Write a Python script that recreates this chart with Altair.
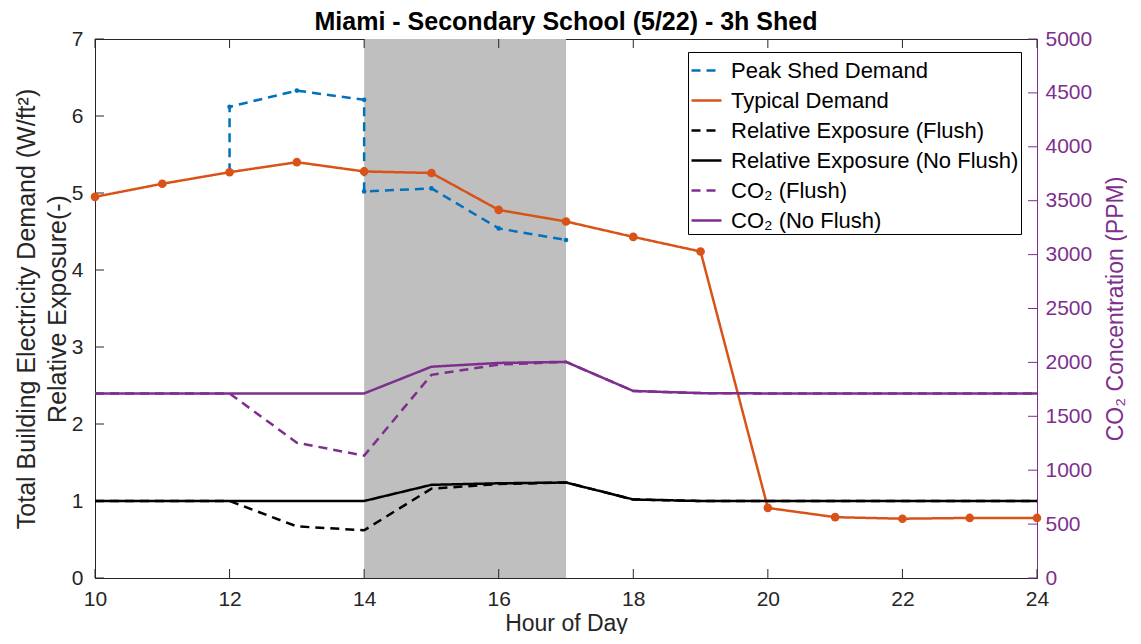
import altair as alt
import pandas as pd

hours = list(range(10, 25))
typical = [4.95, 5.12, 5.27, 5.40, 5.28, 5.26, 4.78, 4.63, 4.43, 4.24, 0.91, 0.79, 0.77, 0.78, 0.78]
shed_hours = [12, 12, 13, 14, 14, 15, 16, 17]
shed = [5.27, 6.12, 6.33, 6.21, 5.02, 5.06, 4.54, 4.39]
exp_noflush = [1.0, 1.0, 1.0, 1.0, 1.0, 1.21, 1.23, 1.24, 1.02, 1.0, 1.0, 1.0, 1.0, 1.0, 1.0]
exp_flush = [1.0, 1.0, 1.0, 0.67, 0.62, 1.16, 1.22, 1.24, 1.02, 1.0, 1.0, 1.0, 1.0, 1.0, 1.0]
co2_noflush = [1712, 1712, 1712, 1712, 1712, 1960, 1995, 2005, 1735, 1715, 1712, 1712, 1712, 1712, 1712]
co2_flush = [1712, 1712, 1712, 1255, 1135, 1885, 1980, 2005, 1735, 1715, 1712, 1712, 1712, 1712, 1712]
shed_window = [14, 17]

x_ticks = list(range(10, 25, 2))
left_ticks = list(range(0, 8))
right_ticks = list(range(0, 5001, 500))

names = ["Peak Shed Demand", "Typical Demand", "Relative Exposure (Flush)",
         "Relative Exposure (No Flush)", "CO\u2082 (Flush)", "CO\u2082 (No Flush)"]
colors = ["#0072BD", "#D95319", "#000000", "#000000", "#7E2F8E", "#7E2F8E"]
dashes = [[9, 6], [1, 0], [9, 6], [1, 0], [9, 6], [1, 0]]
AXC = "#262626"
PURPLE = "#7E2F8E"


def frame(xs, ys, name):
    return pd.DataFrame({"hour": xs, "value": ys, "series": name, "idx": range(len(xs))})


left_df = pd.concat([
    frame(shed_hours, shed, names[0]),
    frame(hours, typical, names[1]),
    frame(hours, exp_flush, names[2]),
    frame(hours, exp_noflush, names[3]),
])
right_df = pd.concat([
    frame(hours, co2_flush, names[4]),
    frame(hours, co2_noflush, names[5]),
])

W, H = 942, 539
TL = 9
xscale = alt.Scale(domain=[10, 24], nice=False)
lscale = alt.Scale(domain=[0, 7], nice=False)
rscale = alt.Scale(domain=[0, 5000], nice=False)
xaxis = alt.Axis(values=x_ticks, format="d", title="Hour of Day", ticks=False,
                 labelPadding=10, titlePadding=3, labelFlush=False)
color = alt.Color("series:N", scale=alt.Scale(domain=names, range=colors), sort=names,
                  legend=alt.Legend(title=None))
dash = alt.StrokeDash("series:N", scale=alt.Scale(domain=names, range=dashes), sort=names,
                      legend=alt.Legend(title=None))

rect = alt.Chart(pd.DataFrame({"start": [shed_window[0]], "end": [shed_window[1]]})).mark_rect(
    color="#bfbfbf").encode(
    x=alt.X("start:Q", scale=xscale, axis=xaxis), x2="end:Q",
    y=alt.value(0), y2=alt.value(H))

lines_left = alt.Chart(left_df).mark_line(strokeWidth=2.5).encode(
    x=alt.X("hour:Q", scale=xscale, axis=xaxis),
    y=alt.Y("value:Q", scale=lscale,
            axis=alt.Axis(values=left_ticks, format="d", ticks=False, labelPadding=12,
                          title=["Total Building Electricity Demand (W/ft\u00b2)", "Relative Exposure(-)"],
                          titlePadding=1, titleLineHeight=31, titleFontSize=25)),
    color=color, strokeDash=dash, detail="series:N", order="idx:Q")

pts_orange = alt.Chart(frame(hours, typical, names[1])).mark_point(
    filled=True, color="#D95319", size=75, opacity=1).encode(
    x=alt.X("hour:Q", scale=xscale), y=alt.Y("value:Q", scale=lscale))
pts_blue = alt.Chart(frame(shed_hours, shed, names[0])).mark_point(
    filled=True, color="#0072BD", size=22, opacity=1).encode(
    x=alt.X("hour:Q", scale=xscale), y=alt.Y("value:Q", scale=lscale))

xt_df = pd.DataFrame({"t": x_ticks})
bottom_ticks = alt.Chart(xt_df).mark_rule(color=AXC, strokeWidth=1).encode(
    x=alt.X("t:Q", scale=xscale), y=alt.value(H), y2=alt.value(H - TL))
top_ticks = alt.Chart(xt_df).mark_rule(color=AXC, strokeWidth=1).encode(
    x=alt.X("t:Q", scale=xscale), y=alt.value(0), y2=alt.value(TL))
lt_ticks = alt.Chart(pd.DataFrame({"t": left_ticks})).mark_rule(color=AXC, strokeWidth=1).encode(
    y=alt.Y("t:Q", scale=lscale), x=alt.value(0), x2=alt.value(TL))

left = alt.layer(rect, bottom_ticks, top_ticks, lt_ticks, lines_left, pts_blue, pts_orange)

lines_right = alt.Chart(right_df).mark_line(strokeWidth=2.5).encode(
    x=alt.X("hour:Q", scale=xscale, axis=xaxis),
    y=alt.Y("value:Q", scale=rscale,
            axis=alt.Axis(orient="right", values=right_ticks, format="d", ticks=False,
                          labelPadding=8, title="CO\u2082 Concentration (PPM)", titleAngle=270,
                          titleBaseline="top", titlePadding=13, labelColor=PURPLE,
                          titleColor=PURPLE, domainColor=PURPLE)),
    color=color, strokeDash=dash, detail="series:N", order="idx:Q")
rt_ticks = alt.Chart(pd.DataFrame({"t": right_ticks})).mark_rule(color=PURPLE, strokeWidth=1).encode(
    y=alt.Y("t:Q", scale=rscale), x=alt.value(W - TL), x2=alt.value(W))
right = alt.layer(rt_ticks, lines_right)

chart = alt.layer(left, right).resolve_scale(y="independent").properties(
    width=W, height=H,
    title=alt.Title("Miami - Secondary School (5/22) - 3h Shed", fontSize=25, fontWeight="bold",
                    color="#000000", offset=10, frame="group", dy=17),
    autosize=alt.AutoSizeParams(type="none"),
    padding={"left": 87, "top": 31, "right": 90, "bottom": 56},
).configure(font="Liberation Sans").configure_view(stroke=AXC, strokeWidth=1).configure_axis(
    grid=False, labelFontSize=21, titleFontSize=23, titleFontWeight="normal",
    labelColor=AXC, titleColor=AXC, domainColor=AXC,
    labelFont="Liberation Sans", titleFont="Liberation Sans"
).configure_legend(
    orient="none", legendX=593, legendY=13, strokeColor="#000000", fillColor="#ffffff",
    padding=2, symbolType="stroke", symbolStrokeWidth=2.5, symbolSize=900,
    labelFontSize=22, labelFont="Liberation Sans", labelColor="#000000", labelLimit=0,
    rowPadding=2, labelOffset=8, cornerRadius=0
)

chart.save("out.html", embed_options={"renderer": "svg", "actions": False})
